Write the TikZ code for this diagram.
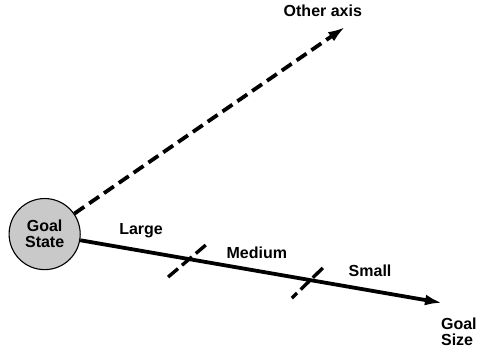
\documentclass[tikz,border=0pt]{standalone}
\usepackage{fontspec}
\setmainfont{Liberation Sans}
\usetikzlibrary{arrows.meta}

\begin{document}
\begin{tikzpicture}[font=\bfseries\fontsize{16}{18}\selectfont,>={Latex[length=17pt,width=11pt]},
      axis/.style={line width=3.8pt},
      tickmark/.style={line width=3.4pt}]
    \useasboundingbox (0,0) rectangle (16.77,12.41);
    % --- goal state ---
    \node[draw,circle,line width=1.1pt,fill=black!21,minimum size=2.5cm,inner sep=0pt,
      align=center] (gs) at (1.57,4.18) {Goal\\[-2pt]State};
    % axis ends
    \coordinate (size) at (15.54,1.76);
    \coordinate (other) at (12.13,11.46);
    \draw[axis,->] (gs) -- (size);
    \draw[axis,dash pattern=on 12pt off 6pt,->] (gs) -- (other);
    % size ticks
    \draw[tickmark,dash pattern=on 13pt off 5.2pt] (5.91,2.67) -- (7.24,3.80);
    \draw[tickmark,dash pattern=on 14pt off 5pt on 12pt off 5pt] (11.35,2.99) -- (10.26,1.93);
    % labels
    \node (lg) at (4.96,4.29) {Large};
    \node (md) at (9.03,3.51) {Medium};
    \node (sm) at (13.01,2.88) {Small};
    \node (oa) at (11.35,12.02) {Other axis};
    \node[anchor=west,align=left,inner sep=0pt] (gsz) at (15.50,0.74) {Goal\\[-2pt]Size};
  \end{tikzpicture}
\end{document}
